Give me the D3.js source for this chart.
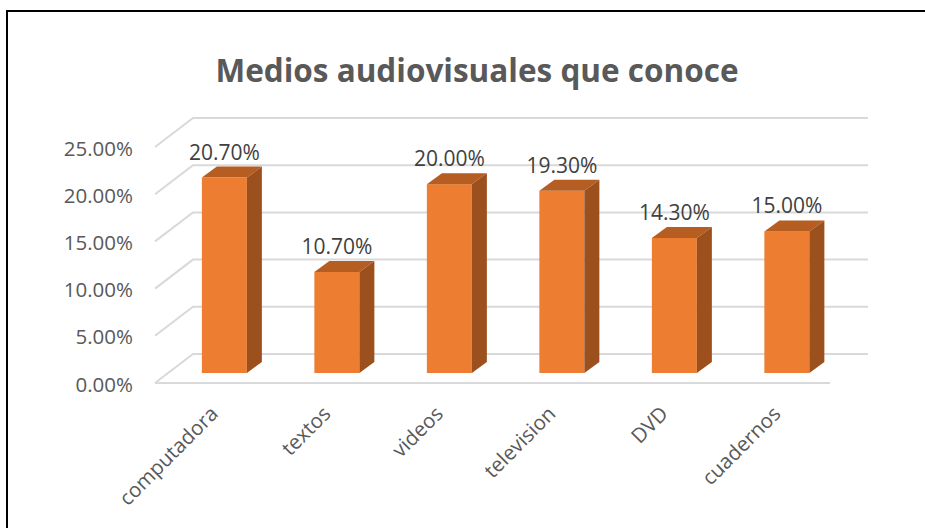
<!DOCTYPE html>
<html>
<head>
<meta charset="utf-8">
<script src="https://cdn.jsdelivr.net/npm/d3@7"></script>
<style>
  html, body { margin: 0; padding: 0; background: #fff; }
  svg { display: block; }
</style>
</head>
<body>
<svg id="chart" width="925" height="528"></svg>
<script>
const title = "Medios audiovisuales que conoce";
const categories = ["computadora", "textos", "videos", "television", "DVD", "cuadernos"];
const values = [0.207, 0.107, 0.200, 0.193, 0.143, 0.150];
const tickValues = [0, 0.05, 0.10, 0.15, 0.20, 0.25];

const svg = d3.select("#chart");
const FONT = "'Open Sans', 'Noto Sans', sans-serif";

// border (extends past right/bottom of window)
svg.append("rect").attr("x", 7).attr("y", 11).attr("width", 940).attr("height", 540)
  .attr("fill", "none").attr("stroke", "#000").attr("stroke-width", 2);

// geometry
const front = { x0: 155, x1: 830 };
const depth = { dx: 38, dy: -29 };
const y = d3.scaleLinear().domain([0, 0.25]).range([383, 147]);
const x = d3.scaleBand().domain(categories).range([front.x0, front.x1])
  .paddingInner(0.6).paddingOuter(0.3);
const fmt = d3.format(".2%");

// title
svg.append("text").attr("x", 477).attr("y", 82).attr("text-anchor", "middle")
  .attr("font-family", FONT).attr("font-weight", "bold").attr("font-size", 31.5)
  .attr("fill", "#595959").text(title);

// gridlines (left wall slant + back wall)
const grid = svg.append("g").attr("stroke", "#d9d9d9").attr("stroke-width", 2).attr("fill", "none");
tickValues.forEach(t => {
  const yf = y(t);
  grid.append("path").attr("d",
    `M${front.x0},${yf}L${front.x0 + depth.dx},${yf + depth.dy}L${front.x1 + depth.dx},${yf + depth.dy}`);
});
// floor front edge
grid.append("path").attr("d", `M${front.x0},${y(0)}L${front.x1},${y(0)}`);

// y tick labels
svg.append("g").selectAll("text").data(tickValues).join("text")
  .attr("x", 133).attr("y", d => y(d) + 8.5)
  .attr("text-anchor", "end").attr("font-family", FONT).attr("font-size", 20.5)
  .attr("fill", "#595959").text(d => fmt(d));

// bars
const f = 0.345;               // bar front depth fraction
const offX = depth.dx * f, offY = depth.dy * f;
const bdx = 15, bdy = -11;     // bar depth
const bars = svg.append("g");
categories.forEach((c, i) => {
  const v = values[i];
  const bx = x(c) + offX, bw = x.bandwidth();
  const yb = y(0) + offY, yt = y(v) + offY;
  const g = bars.append("g");
  g.append("rect").attr("x", bx).attr("y", yt).attr("width", bw).attr("height", yb - yt).attr("fill", "#ed7d31");
  g.append("path").attr("d",
    `M${bx},${yt}L${bx + bdx},${yt + bdy}L${bx + bw + bdx},${yt + bdy}L${bx + bw},${yt}Z`).attr("fill", "#b65d22");
  g.append("path").attr("d",
    `M${bx + bw},${yt}L${bx + bw + bdx},${yt + bdy}L${bx + bw + bdx},${yb + bdy}L${bx + bw},${yb}Z`).attr("fill", "#9b501d");
  // data label
  svg.append("text").attr("x", bx + bw / 2).attr("y", yt - 18)
    .attr("text-anchor", "middle").attr("font-family", FONT).attr("font-size", 21)
    .attr("fill", "#404040").text(fmt(v));
  // category label
  const lx = bx + bw / 2 - 5, ly = 415;
  svg.append("text").attr("transform", `translate(${lx},${ly}) rotate(-45)`)
    .attr("text-anchor", "end").attr("font-family", FONT).attr("font-size", 20.5)
    .attr("fill", "#595959").text(c);
});
</script>
</body>
</html>
